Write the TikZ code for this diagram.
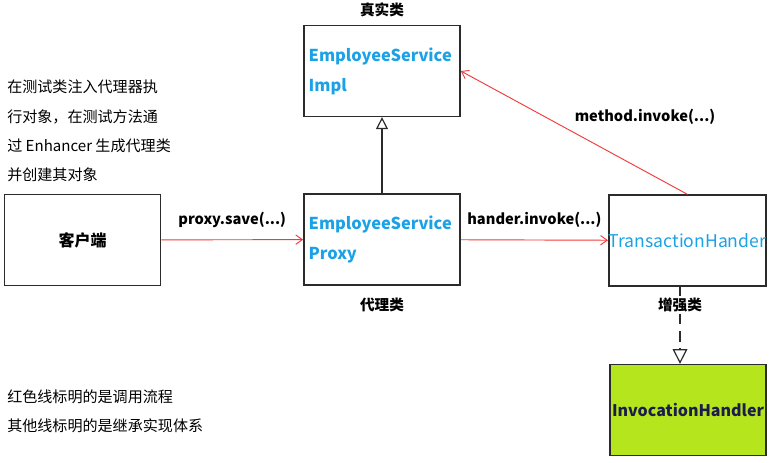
\documentclass[tikz,border=0pt]{standalone}
\usepackage{fontspec}
\setmainfont{Noto Sans CJK SC}
\usetikzlibrary{arrows.meta,positioning}
\definecolor{PrxInk}{HTML}{2B2B2B}
\definecolor{PrxBlue}{HTML}{1BA1E6}
\definecolor{PrxRed}{HTML}{F23A3A}
\definecolor{PrxLime}{HTML}{B5E61D}
\definecolor{PrxNavy}{HTML}{1C1C4A}
\tikzset{
  prxbox/.style={
    draw=PrxInk,
    line width=1.2pt,
    minimum width=117pt,
    minimum height=68pt,
    inner sep=0pt
  },
  prxclass/.style={
    prxbox,
    text=PrxBlue,
    font=\bfseries\fontsize{12.3}{22.5}\selectfont,
    align=left,
    text width=110pt
  },
  prxiface/.style={
    prxbox,
    fill=PrxLime,
    text=PrxNavy,
    font=\bfseries\fontsize{12}{14}\selectfont
  },
  prxcall/.style={-{Straight Barb[length=5pt,width=7pt]},line width=.7pt,draw=PrxRed},
  prxextends/.style={-{Triangle[open,length=9pt,width=9pt,fill=white]},line width=.9pt,draw=PrxInk},
  prxdash/.style={line width=.9pt,draw=PrxInk,dash pattern=on 8pt off 5pt},
  prxtag/.style={font=\bfseries\fontsize{11}{13}\selectfont,inner sep=1pt},
  prxnote/.style={font=\fontsize{11.3}{22}\selectfont,align=left,anchor=west,inner sep=0pt}
}
\begin{document}
\begin{tikzpicture}[x=.75pt,y=-.75pt]
    \useasboundingbox (0,0) rectangle (773,463);
    % classes
    \node[prxbox,font=\bfseries\fontsize{12}{14}\selectfont] (client) at (82.5,240) {客户端};
    \node[prxclass] (impl) at (382,71) {EmployeeService\\Impl};
    \node[prxclass] (proxy) at (382,239.5) {EmployeeService\\Proxy};
    \node[prxbox,text=PrxBlue,font=\fontsize{13.2}{15}\selectfont] (trans) at (687.5,240.5) {TransactionHander};
    \node[prxiface] (inv) at (688,410) {InvocationHandler};
    % tags
    \node[prxtag,above=5pt of impl] (realtag) {真实类};
    \node[prxtag,below=8pt of proxy] (proxytag) {代理类};
    \node[prxtag,fill=white] (enhtag) at (680,305) {增强类};
    % calls
    \draw[prxcall] (client) -- (proxy) node[prxtag,midway,above=8pt] (savelbl) {proxy.save(...)};
    \draw[prxcall] (proxy) -- (trans) node[prxtag,midway,above=8pt] (handlbl) {hander.invoke(...)};
    \draw[prxcall] (trans.north) -- (impl.east);
    \node[prxtag] (methodlbl) at (645,117) {method.invoke(...)};
    % hierarchy
    \draw[prxextends] (proxy) -- (impl);
    \draw[prxdash] (trans.south -| enhtag) -- (enhtag.north);
    \draw[prxdash,-{Triangle[open,length=11pt,width=11pt,fill=white]}] (enhtag.south) -- (inv.north -| enhtag);
    % notes
    \node[prxnote] (setupnote) at (7,131) {在测试类注入代理器执\\行对象，在测试方法通\\过 Enhancer 生成代理类\\并创建其对象};
    \node[prxnote] (legendnote) at (7,411) {红色线标明的是调用流程\\其他线标明的是继承实现体系};
  \end{tikzpicture}
\end{document}
